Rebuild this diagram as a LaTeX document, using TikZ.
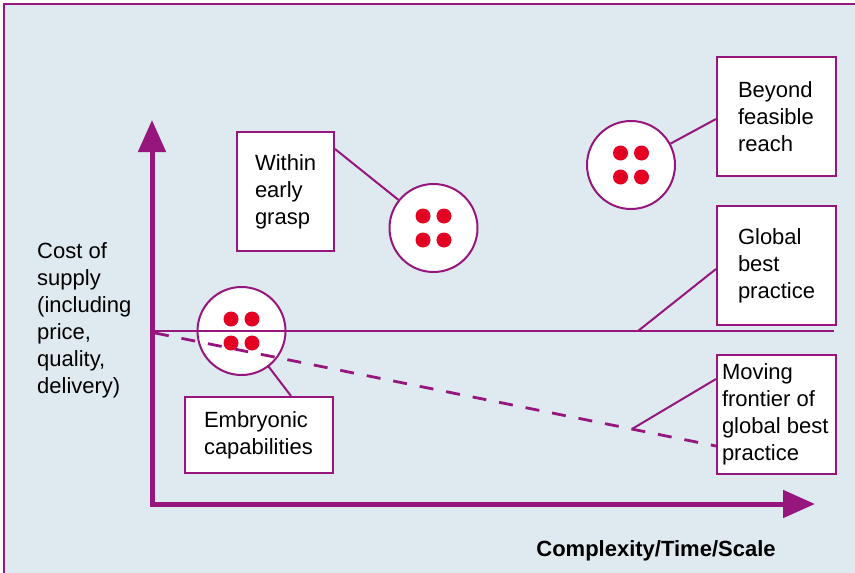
\documentclass[tikz,border=0pt]{standalone}
\usepackage{fontspec}
\setmainfont{Liberation Sans}
\usetikzlibrary{arrows.meta,calc}
\definecolor{fpurple}{RGB}{150,22,126}
\definecolor{fbg}{RGB}{222,233,240}
\definecolor{fred}{RGB}{227,0,34}
\pgfdeclarelayer{bglayer}
\pgfdeclarelayer{connlayer}
\pgfdeclarelayer{toplayer}
\pgfsetlayers{bglayer,connlayer,main,toplayer}
\begin{document}
\begin{tikzpicture}[x=1pt,y=-1pt,
  txt/.style={font=\fontsize{22}{27}\selectfont, text=black},
  lbox/.style={txt, draw=fpurple, line width=2pt, fill=white, align=flush left, inner ysep=0pt},
  circ/.style={circle, draw=fpurple, line width=2pt, fill=white, minimum size=88pt, inner sep=0pt},
  conn/.style={draw=fpurple, line width=2pt},
  axis/.style={draw=fpurple, line width=5pt, line join=miter},
  dashln/.style={draw=fpurple, line width=2.8pt, dash pattern=on 14pt off 13pt}
]
\useasboundingbox (0,0) rectangle (855,573);

% coordinates
\coordinate (corner) at (152,504);
\coordinate (ytip) at (152,120);
\coordinate (xtip) at (815,504);
\coordinate (g0) at (152,331);
\coordinate (g1) at (834,331);
\coordinate (gl) at (638,331);
\coordinate (d0) at (155,333);
\coordinate (d1) at (716,446);
\coordinate (dl) at (632,429);

% boxes
\node[lbox, inner xsep=18pt, text width=61pt, minimum height=119pt] (wbox) at (285.5,191.5) {Within\\early\\grasp};
\node[lbox, inner xsep=21pt, text width=77pt, minimum height=119pt] (bbox) at (776.5,116.5) {Beyond\\feasible\\reach};
\node[lbox, inner xsep=21pt, text width=77pt, minimum height=119pt] (gbox) at (776.5,265.5) {Global\\best\\practice};
\node[lbox, inner xsep=5pt, text width=109pt, minimum height=119pt] (mbox) at (776.5,414.5) {Moving\\frontier of\\global best\\practice};
\node[lbox, inner xsep=19pt, text width=110pt, minimum height=76pt] (ebox) at (259,435) {Embryonic\\capabilities};

% circles
\node[circ] (c1) at (433.5,228) {};
\node[circ] (c2) at (631,165) {};
\node[circ] (c3) at (241.5,331) {};

% axis labels
\node[txt, align=flush left, anchor=west, inner sep=0pt] (ylabel) at (37,320) {Cost of\\supply\\(including\\price,\\quality,\\delivery)};
\node[txt, font=\fontsize{22}{27}\selectfont\bfseries, inner sep=0pt] (xlabel) at (656,551) {Complexity/Time/Scale};

% frame and background
\begin{pgfonlayer}{bglayer}
\fill[fbg] (4,4) rectangle (855,573);
\draw[fpurple, line width=2pt] (4,573) -- (4,4) -- (855,4);
\draw[dashln] (d0) -- (d1);
\end{pgfonlayer}

% connectors behind circles and boxes
\begin{pgfonlayer}{connlayer}
\draw[conn] ($(wbox.north east)+(0,18)$) -- (c1);
\draw[conn] ($(bbox.north west)+(0,63)$) -- (c2);
\draw[conn] (gl) -- ($(gbox.north west)+(0,64)$);
\draw[conn] (dl) -- ($(mbox.north west)+(0,25)$);
\draw[conn] ($(ebox.north west)+(107,0)$) -- (c3);
\end{pgfonlayer}

% lines through the embryonic circle and axes on top
\begin{pgfonlayer}{toplayer}
\draw[conn] (g0) -- (g1);
\begin{scope}
\clip (c3) circle (44pt);
\draw[dashln] (d0) -- (d1);
\end{scope}
\foreach \c in {c1,c2,c3}{
  \foreach \dx in {-10.5,10.5}{
    \foreach \dy in {-12,12}{
      \fill[fred] ($(\c)+(\dx,\dy)$) circle (7.5pt);
    }
  }
}
\draw[axis, {Triangle[length=32pt,width=27pt]}-{Triangle[length=32pt,width=27pt]}] (ytip) -- (corner) -- (xtip);
\end{pgfonlayer}
\end{tikzpicture}
\end{document}
